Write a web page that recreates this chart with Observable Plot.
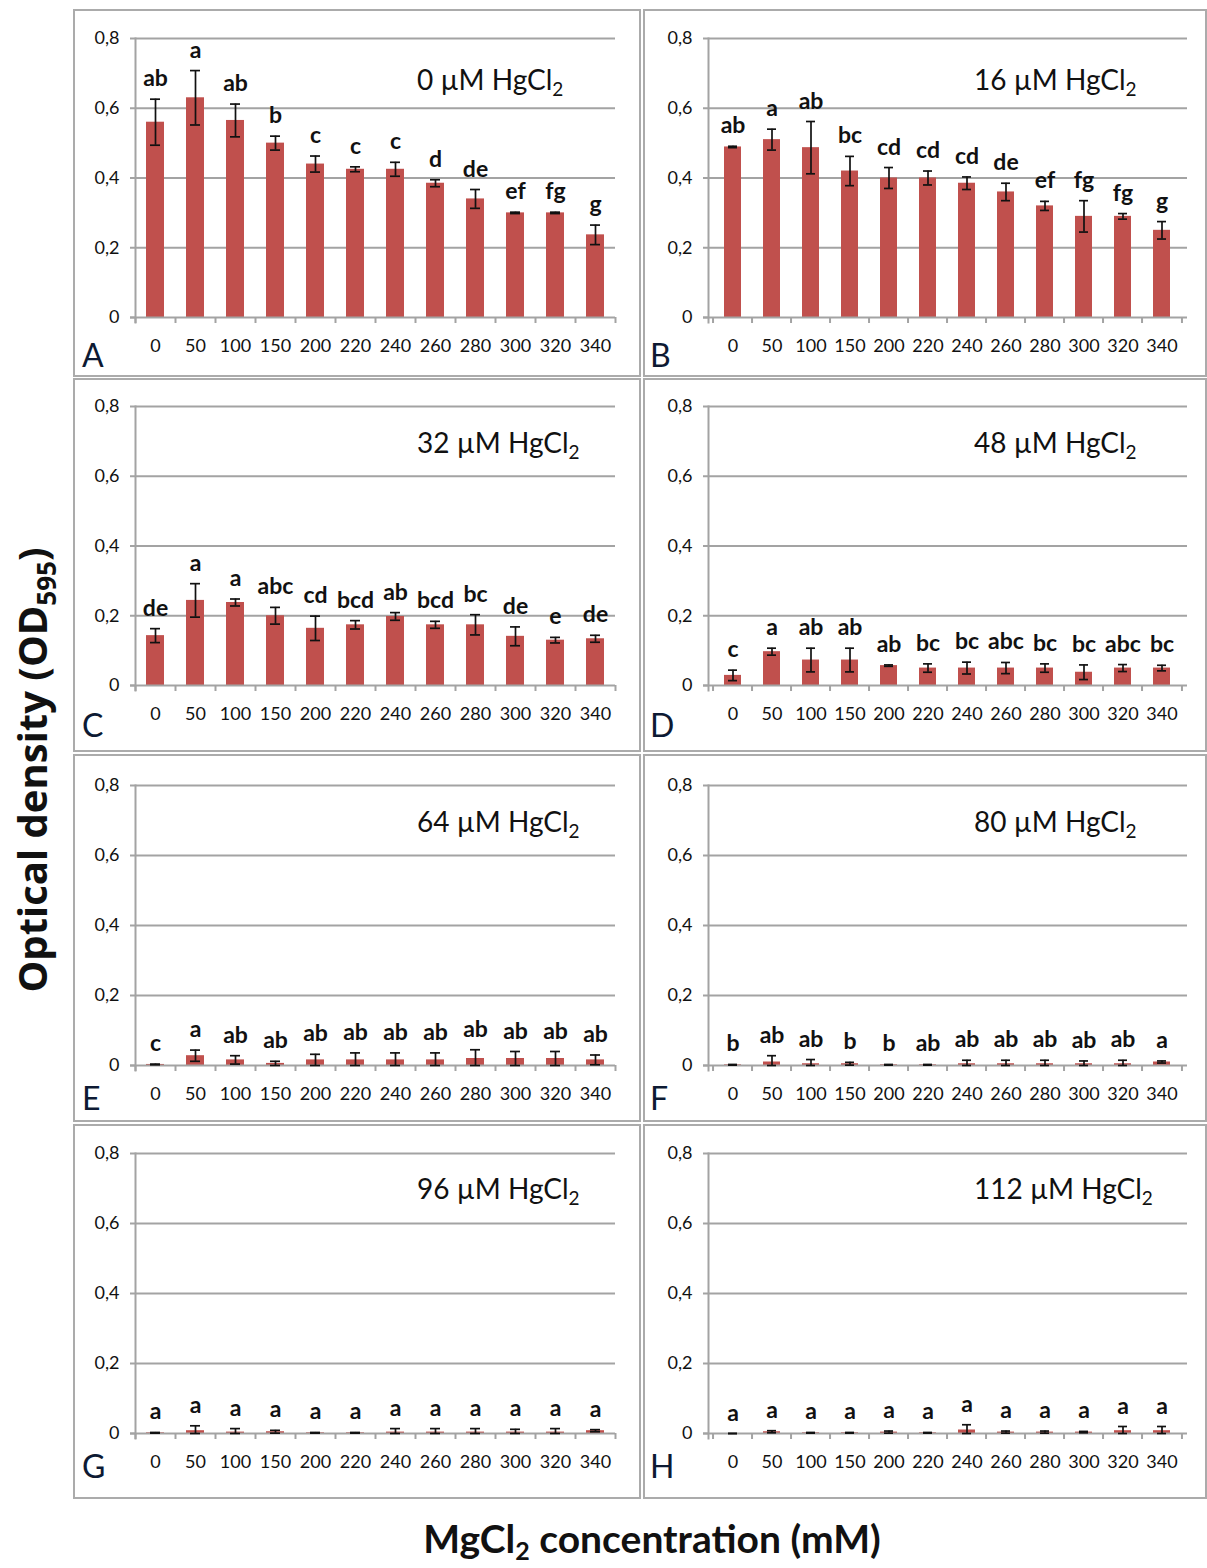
<!DOCTYPE html>
<html>
<head>
<meta charset="utf-8">
<script src="https://cdn.jsdelivr.net/npm/d3@7"></script>
<script src="https://cdn.jsdelivr.net/npm/@observablehq/plot@0.6"></script>
<style>
  html, body { margin: 0; padding: 0; background: #fff; }
  #root { position: relative; width: 1207px; height: 1568px; overflow: hidden; background: #fff; }
  .frame { position: absolute; box-sizing: border-box; border: 2px solid #ababab; }
  .chart { position: absolute; }
  .chart svg { display: block; overflow: visible; }
  #overlay { position: absolute; left: 0; top: 0; pointer-events: none; }
</style>
</head>
<body>
<div id="root"></div>
<script>
// ---------------- DATA ----------------
const categories = ["0","50","100","150","200","220","240","260","280","300","320","340"];
const hgLevels = ["0","16","32","48","64","80","96","112"];
const panelLetters = ["A","B","C","D","E","F","G","H"];
const yTicks = [0, 0.2, 0.4, 0.6, 0.8];

const meanA = [0.56,0.63,0.565,0.50,0.44,0.425,0.425,0.385,0.34,0.30,0.30,0.237];
const errA  = [0.066,0.078,0.047,0.02,0.023,0.007,0.02,0.01,0.027,0.002,0.002,0.028];
const sigA  = ["ab","a","ab","b","c","c","c","d","de","ef","fg","g"];

const meanB = [0.489,0.51,0.487,0.42,0.40,0.40,0.385,0.36,0.32,0.29,0.29,0.25];
const errB  = [0.002,0.03,0.075,0.042,0.03,0.02,0.018,0.025,0.013,0.045,0.008,0.025];
const sigB  = ["ab","a","ab","bc","cd","cd","cd","de","ef","fg","fg","g"];

const meanC = [0.143,0.244,0.238,0.20,0.164,0.174,0.198,0.174,0.174,0.141,0.13,0.134];
const errC  = [0.02,0.048,0.01,0.024,0.035,0.012,0.011,0.01,0.029,0.027,0.008,0.01];
const sigC  = ["de","a","a","abc","cd","bcd","ab","bcd","bc","de","e","de"];

const meanD = [0.029,0.097,0.073,0.073,0.057,0.05,0.05,0.05,0.05,0.038,0.05,0.05];
const errD  = [0.015,0.01,0.034,0.034,0.002,0.012,0.017,0.016,0.012,0.021,0.01,0.008];
const sigD  = ["c","a","ab","ab","ab","bc","bc","abc","bc","bc","abc","bc"];

const meanE = [0.003,0.028,0.016,0.006,0.016,0.016,0.016,0.016,0.02,0.02,0.02,0.016];
const errE  = [0.001,0.016,0.012,0.006,0.016,0.02,0.02,0.02,0.025,0.02,0.02,0.014];
const sigE  = ["c","a","ab","ab","ab","ab","ab","ab","ab","ab","ab","ab"];

const meanF = [0.002,0.01,0.005,0.005,0.002,0.002,0.005,0.005,0.005,0.005,0.005,0.01];
const errF  = [0.001,0.018,0.012,0.004,0.001,0.001,0.01,0.01,0.01,0.008,0.01,0.003];
const sigF  = ["b","ab","ab","b","b","ab","ab","ab","ab","ab","ab","a"];

const meanG = [0.002,0.008,0.004,0.005,0.002,0.002,0.004,0.004,0.004,0.004,0.004,0.008];
const errG  = [0.001,0.014,0.01,0.004,0.001,0.001,0.01,0.01,0.01,0.008,0.01,0.003];
const sigG  = ["a","a","a","a","a","a","a","a","a","a","a","a"];

const meanH = [0,0.005,0.002,0.002,0.004,0.002,0.01,0.004,0.004,0.004,0.008,0.008];
const errH  = [0,0.003,0.001,0.001,0.003,0.001,0.015,0.003,0.003,0.002,0.012,0.012];
const sigH  = ["a","a","a","a","a","a","a","a","a","a","a","a"];

const yLabel = "Optical density (OD";
const yLabelSub = "595";
const xLabel = "MgCl";
const xLabelRest = " concentration (mM)";

// ---------------- LAYOUT ----------------
const series = [
  [meanA, errA, sigA], [meanB, errB, sigB], [meanC, errC, sigC], [meanD, errD, sigD],
  [meanE, errE, sigE], [meanF, errF, sigF], [meanG, errG, sigG], [meanH, errH, sigH]
];
const cols = [
  {x: 73, w: 568, plotL: 135, plotR: 615, titleX: 417, letterX: 82},
  {x: 643, w: 564, plotL: 708, plotR: 1187, titleX: 974, letterX: 650}
];
const rows = [
  {y: 9, h: 368, y08: 38, y0: 317},
  {y: 378, h: 374, y08: 406, y0: 685},
  {y: 754, h: 368, y08: 785, y0: 1065},
  {y: 1124, h: 375, y08: 1153, y0: 1433}
];
const GRID = "#a3a3a3";
const BAR = "#c0504d";
const FONT = "Lato, 'Open Sans', sans-serif";

const root = document.getElementById("root");

series.forEach(([mean, err, sig], i) => {
  const c = cols[i % 2], r = rows[Math.floor(i / 2)];
  const data = categories.map((cat, k) => ({cat, v: mean[k], e: err[k], s: sig[k]}));
  const ml = c.plotL - c.x, mr = c.x + c.w - c.plotR;
  const mt = r.y08 - r.y, mb = r.y + r.h - r.y0;
  const step = (c.plotR - c.plotL) / categories.length;

  const frame = document.createElement("div");
  frame.className = "frame";
  Object.assign(frame.style, {left: c.x + "px", top: r.y + "px", width: c.w + "px", height: r.h + "px"});
  root.appendChild(frame);

  const chart = Plot.plot({
    width: c.w, height: r.h,
    marginLeft: ml, marginRight: mr, marginTop: mt, marginBottom: mb,
    style: {fontFamily: FONT, fontSize: "18px", background: "transparent", overflow: "visible", color: "#111"},
    x: {type: "band", domain: categories, paddingInner: 0.56, paddingOuter: 0.28, label: null},
    y: {domain: [0, 0.8], label: null},
    marks: [
      Plot.gridY(yTicks.filter(d => d > 0), {stroke: GRID, strokeOpacity: 1, strokeWidth: 2}),
      Plot.frame({anchor: "left", stroke: GRID, strokeOpacity: 1, strokeWidth: 2, insetBottom: -5}),
      Plot.axisY({ticks: yTicks, tickSize: 5, tickPadding: 11, stroke: GRID, strokeWidth: 2,
                  fill: "#111", fontSize: 18,
                  tickFormat: d => d === 0 ? "0" : d3.format(".1f")(d).replace(".", ",")}),
      Plot.axisX({tickSize: 0, tickPadding: 22, fill: "#111", fontSize: 18, label: null}),
      Plot.barY(data, {x: "cat", y: "v", fill: BAR}),
      Plot.ruleY([0], {stroke: GRID, strokeWidth: 2, insetLeft: -5}),
      Plot.ruleX(data, {x: "cat", y1: 0, y2: 0, insetBottom: -6, dx: -step / 2, stroke: GRID, strokeWidth: 2}),
      Plot.ruleX(data.slice(-1), {x: "cat", y1: 0, y2: 0, insetBottom: -6, dx: step / 2, stroke: GRID, strokeWidth: 2}),
      Plot.ruleX(data, {x: "cat", y1: d => Math.max(0, d.v - d.e), y2: d => d.v + d.e, stroke: "#111", strokeWidth: 1.7}),
      Plot.tickY(data, {x: "cat", y: d => d.v + d.e, stroke: "#111", strokeWidth: 1.7, insetLeft: 4, insetRight: 4}),
      Plot.tickY(data, {x: "cat", y: d => Math.max(0, d.v - d.e), stroke: "#111", strokeWidth: 1.7, insetLeft: 4, insetRight: 4}),
      Plot.text(data, {x: "cat", y: d => d.v + d.e, text: "s", lineAnchor: "bottom", dy: -13,
                       fontWeight: "bold", fontSize: 23, fill: "#111"})
    ]
  });
  const holder = document.createElement("div");
  holder.className = "chart";
  Object.assign(holder.style, {left: c.x + "px", top: r.y + "px"});
  holder.appendChild(chart);
  root.appendChild(holder);
});

// ---------------- OVERLAY TEXT ----------------
const titleBase = [90, 453, 832, 1199];
const letterBase = [367, 737, 1110, 1478];
const svg = d3.select(root).append("svg").attr("id", "overlay")
  .attr("width", 1207).attr("height", 1568)
  .style("font-family", FONT);

hgLevels.forEach((hg, i) => {
  const c = cols[i % 2], rI = Math.floor(i / 2);
  const t = svg.append("text").attr("x", c.titleX).attr("y", titleBase[rI])
    .attr("font-size", 28).attr("fill", "#111");
  t.append("tspan").text(hg + " \u00B5M HgCl");
  t.append("tspan").attr("font-size", 19).attr("dy", 6).text("2");
  svg.append("text").attr("x", c.letterX).attr("y", letterBase[rI])
    .attr("font-size", 32).attr("fill", "#0d1a33").text(panelLetters[i]);
});

const yl = svg.append("text")
  .attr("transform", "translate(47,770) rotate(-90)")
  .attr("text-anchor", "middle")
  .attr("font-family", "'Open Sans', sans-serif")
  .attr("font-weight", "bold").attr("font-size", 40).attr("fill", "#111");
yl.append("tspan").text(yLabel);
yl.append("tspan").attr("font-size", 26).attr("dy", 9).text(yLabelSub);
yl.append("tspan").attr("dy", -9).text(")");

const xl = svg.append("text")
  .attr("x", 652).attr("y", 1553)
  .attr("text-anchor", "middle")
  .attr("font-weight", "bold").attr("font-size", 39).attr("fill", "#111");
xl.append("tspan").text(xLabel);
xl.append("tspan").attr("font-size", 25).attr("dy", 7).text("2");
xl.append("tspan").attr("dy", -7).text(xLabelRest);
</script>
</body>
</html>
